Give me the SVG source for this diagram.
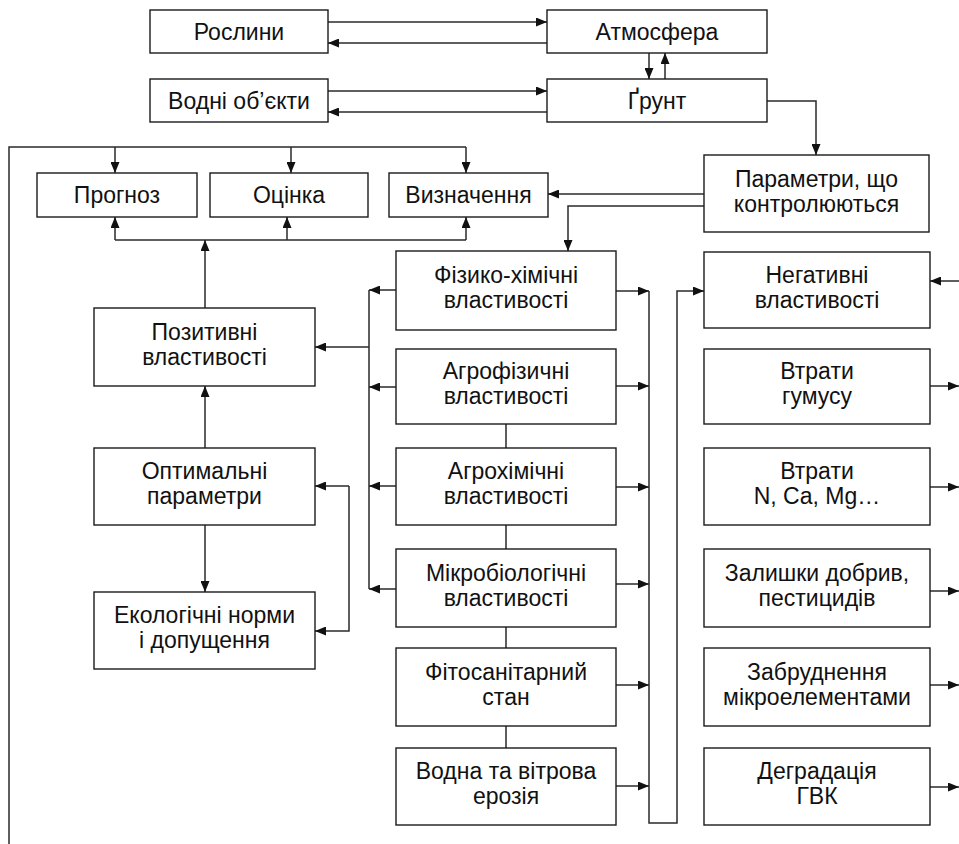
<svg xmlns="http://www.w3.org/2000/svg" width="959" height="844" viewBox="0 0 959 844">
<defs>
<style>
.b{fill:#fff;stroke:#1a1a1a;stroke-width:1.4}
.t{font-family:"Liberation Sans",Arial,sans-serif;font-size:23px;fill:#111;text-anchor:middle}
.c path{fill:none;stroke:#2a2a2a;stroke-width:1.5}
.c .a{marker-end:url(#ah)}
</style>
<marker id="ah" viewBox="0 0 11 9" refX="11" refY="4.5" markerWidth="11" markerHeight="9" markerUnits="userSpaceOnUse" orient="auto-start-reverse">
<path d="M0,0 L11,4.5 L0,9 z" fill="#111"/>
</marker>
</defs>
<rect width="959" height="844" fill="#fff"/>
<g id="connectors" class="c">
<path class="a" d="M328,22 H547"/>
<path class="a" d="M547,43 H328"/>
<path class="a" d="M328,91 H547"/>
<path class="a" d="M547,112 H328"/>
<path class="a" d="M649,53 V79"/>
<path class="a" d="M665,79 V53"/>
<path class="a" d="M767,101 H816 V155"/>
<path class="a" d="M704,194 H548"/>
<path class="a" d="M704,206 H568 V251"/>
<path d="M9,844 V147 H466"/>
<path class="a" d="M115,147 V173"/>
<path class="a" d="M291,147 V173"/>
<path class="a" d="M466,147 V173"/>
<path d="M115,240 H466"/>
<path class="a" d="M115,240 V217"/>
<path class="a" d="M287,240 V217"/>
<path class="a" d="M466,240 V217"/>
<path class="a" d="M205,308 V240"/>
<path class="a" d="M205,448 V386"/>
<path class="a" d="M205,525 V592"/>
<path class="a" d="M349,486 V631 H315" style="marker-start:none"/>
<path class="a" d="M349,486 H315"/>
<path d="M369,290 V589"/>
<path class="a" d="M396,290 H369"/>
<path class="a" d="M396,387 H369"/>
<path class="a" d="M396,486 H369"/>
<path class="a" d="M396,589 H369"/>
<path class="a" d="M369,347 H315"/>
<path d="M506,424 V448 M506,525 V549 M506,627 V648 M506,726 V748"/>
<path class="a" d="M616,291 H649"/>
<path class="a" d="M616,386 H649"/>
<path class="a" d="M616,487 H649"/>
<path class="a" d="M616,584 H649"/>
<path class="a" d="M616,685 H649"/>
<path class="a" d="M616,786 H649"/>
<path class="a" d="M649,291 V823 H677 V291 H704"/>
<path class="a" d="M959,281 H930"/>
<path class="a" d="M930,386 H959"/>
<path class="a" d="M930,487 H959"/>
<path class="a" d="M930,591 H959"/>
<path class="a" d="M930,685 H959"/>
<path class="a" d="M930,787 H959"/>
</g>
<g id="n-roslyny"><rect class="b" x="150" y="10" width="178" height="43"/><text class="t" x="239" y="40">Рослини</text></g>
<g id="n-atmosfera"><rect class="b" x="547" y="10" width="220" height="43"/><text class="t" x="657" y="40">Атмосфера</text></g>
<g id="n-vodni"><rect class="b" x="150" y="79" width="178" height="43"/><text class="t" x="239" y="109">Водні об’єкти</text></g>
<g id="n-grunt"><rect class="b" x="547" y="79" width="220" height="43"/><text class="t" x="657" y="109">Ґрунт</text></g>
<g id="n-parametry"><rect class="b" x="704" y="155" width="225" height="77"/><text class="t" x="816.5" y="187">Параметри, що</text><text class="t" x="816.5" y="212">контролюються</text></g>
<g id="n-prognoz"><rect class="b" x="37" y="173" width="160" height="44"/><text class="t" x="117" y="203">Прогноз</text></g>
<g id="n-otsinka"><rect class="b" x="210" y="173" width="158" height="44"/><text class="t" x="289" y="203">Оцінка</text></g>
<g id="n-vyznachennia"><rect class="b" x="389" y="173" width="159" height="44"/><text class="t" x="468.5" y="203">Визначення</text></g>
<g id="n-pozytyvni"><rect class="b" x="94" y="308" width="221" height="78"/><text class="t" x="204.5" y="340">Позитивні</text><text class="t" x="204.5" y="365">властивості</text></g>
<g id="n-optymalni"><rect class="b" x="94" y="448" width="221" height="77"/><text class="t" x="204.5" y="479">Оптимальні</text><text class="t" x="204.5" y="504">параметри</text></g>
<g id="n-ekolohichni"><rect class="b" x="94" y="592" width="221" height="77"/><text class="t" x="204.5" y="623">Екологічні норми</text><text class="t" x="204.5" y="648">і допущення</text></g>
<g id="n-fizyko"><rect class="b" x="396" y="251" width="220" height="79"/><text class="t" x="506" y="283">Фізико-хімічні</text><text class="t" x="506" y="308">властивості</text></g>
<g id="n-ahrofiz"><rect class="b" x="396" y="349" width="220" height="75"/><text class="t" x="506" y="379">Агрофізичні</text><text class="t" x="506" y="404">властивості</text></g>
<g id="n-ahrokhim"><rect class="b" x="396" y="448" width="220" height="77"/><text class="t" x="506" y="479">Агрохімічні</text><text class="t" x="506" y="504">властивості</text></g>
<g id="n-mikrobio"><rect class="b" x="396" y="549" width="220" height="78"/><text class="t" x="506" y="581">Мікробіологічні</text><text class="t" x="506" y="606">властивості</text></g>
<g id="n-fitosan"><rect class="b" x="396" y="648" width="220" height="78"/><text class="t" x="506" y="680">Фітосанітарний</text><text class="t" x="506" y="705">стан</text></g>
<g id="n-eroziia"><rect class="b" x="396" y="748" width="220" height="77"/><text class="t" x="506" y="779">Водна та вітрова</text><text class="t" x="506" y="804">ерозія</text></g>
<g id="n-nehatyvni"><rect class="b" x="704" y="252" width="226" height="76"/><text class="t" x="817" y="283">Негативні</text><text class="t" x="817" y="308">властивості</text></g>
<g id="n-humus"><rect class="b" x="704" y="349" width="226" height="75"/><text class="t" x="817" y="379">Втрати</text><text class="t" x="817" y="404">гумусу</text></g>
<g id="n-ncamg"><rect class="b" x="704" y="448" width="226" height="77"/><text class="t" x="817" y="479">Втрати</text><text class="t" x="817" y="504">N, Ca, Mg…</text></g>
<g id="n-zalyshky"><rect class="b" x="704" y="549" width="226" height="78"/><text class="t" x="817" y="581">Залишки добрив,</text><text class="t" x="817" y="606">пестицидів</text></g>
<g id="n-zabrud"><rect class="b" x="704" y="648" width="226" height="78"/><text class="t" x="817" y="680">Забруднення</text><text class="t" x="817" y="705">мікроелементами</text></g>
<g id="n-dehradatsiia"><rect class="b" x="704" y="748" width="226" height="77"/><text class="t" x="817" y="779">Деградація</text><text class="t" x="817" y="804">ГВК</text></g>
</svg>
